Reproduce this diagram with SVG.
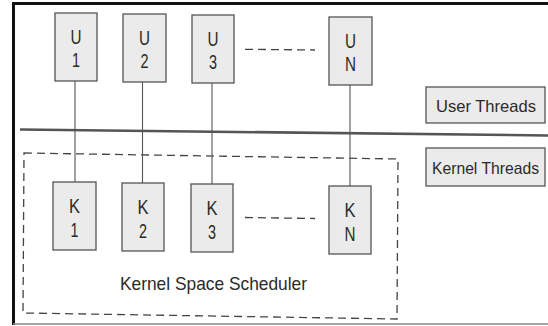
<svg xmlns="http://www.w3.org/2000/svg" width="548" height="326" viewBox="0 0 548 326">
  <style>
    .box { fill: #ebebeb; stroke: #555; stroke-width: 1.3; }
    .lbl { font-family: "Liberation Sans", Arial, sans-serif; font-size: 20px; fill: #2a2a2a; text-anchor: middle; }
    .big { font-family: "Liberation Sans", Arial, sans-serif; font-size: 18.5px; fill: #2a2a2a; text-anchor: middle; }
    .tag { font-family: "Liberation Sans", Arial, sans-serif; font-size: 16.5px; fill: #2a2a2a; text-anchor: middle; }
    .conn { stroke: #555; stroke-width: 1.1; fill: none; }
    .dash { stroke: #444; stroke-width: 1.3; fill: none; stroke-dasharray: 8 5; }
  </style>
  <rect x="0" y="0" width="548" height="326" fill="#ffffff"/>
  <g id="frame">
    <line x1="13.5" y1="2" x2="13.5" y2="325" stroke="#111" stroke-width="3"/>
    <line x1="12" y1="3.5" x2="548" y2="3.5" stroke="#111" stroke-width="3"/>
    <line x1="13" y1="324" x2="548" y2="324" stroke="#888" stroke-width="1.5"/>
    <line x1="20" y1="129.5" x2="548" y2="135.5" stroke="#555" stroke-width="2.6"/>
  </g>
  <g id="scheduler">
    <path class="dash" d="M24,153 L398,159 L397,319 L23,313 Z"/>
    <text class="big" x="213.5" y="290" textLength="187" lengthAdjust="spacingAndGlyphs">Kernel Space Scheduler</text>
  </g>
  <g id="connectors">
    <line class="conn" x1="75" y1="81" x2="75" y2="182"/>
    <line class="conn" x1="142.5" y1="82" x2="142.5" y2="183"/>
    <line class="conn" x1="212" y1="83" x2="212" y2="184"/>
    <line class="conn" x1="350" y1="85" x2="350" y2="186"/>
    <line class="dash" x1="245" y1="49.3" x2="315" y2="50"/>
    <line class="dash" x1="245" y1="217.5" x2="315" y2="218.5"/>
  </g>
  <g id="U1">
    <rect class="box" x="55" y="13" width="42" height="68"/>
    <text class="lbl" x="76" y="43.5" textLength="11" lengthAdjust="spacingAndGlyphs">U</text>
    <text class="lbl" x="76" y="67" textLength="8" lengthAdjust="spacingAndGlyphs">1</text>
  </g>
  <g id="U2">
    <rect class="box" x="123" y="14" width="43" height="68"/>
    <text class="lbl" x="144.5" y="44.5" textLength="11" lengthAdjust="spacingAndGlyphs">U</text>
    <text class="lbl" x="144.5" y="68" textLength="8" lengthAdjust="spacingAndGlyphs">2</text>
  </g>
  <g id="U3">
    <rect class="box" x="192" y="15" width="42" height="68"/>
    <text class="lbl" x="213" y="45.5" textLength="11" lengthAdjust="spacingAndGlyphs">U</text>
    <text class="lbl" x="213" y="69" textLength="8" lengthAdjust="spacingAndGlyphs">3</text>
  </g>
  <g id="UN">
    <rect class="box" x="329" y="17" width="43" height="68"/>
    <text class="lbl" x="350.5" y="47.5" textLength="11" lengthAdjust="spacingAndGlyphs">U</text>
    <text class="lbl" x="350.5" y="71" textLength="11" lengthAdjust="spacingAndGlyphs">N</text>
  </g>
  <g id="K1">
    <rect class="box" x="53" y="182" width="43" height="68"/>
    <text class="lbl" x="74.5" y="213" textLength="11" lengthAdjust="spacingAndGlyphs">K</text>
    <text class="lbl" x="74.5" y="237" textLength="8" lengthAdjust="spacingAndGlyphs">1</text>
  </g>
  <g id="K2">
    <rect class="box" x="122" y="183" width="42" height="68"/>
    <text class="lbl" x="143" y="214" textLength="11" lengthAdjust="spacingAndGlyphs">K</text>
    <text class="lbl" x="143" y="238" textLength="8" lengthAdjust="spacingAndGlyphs">2</text>
  </g>
  <g id="K3">
    <rect class="box" x="191" y="184" width="42" height="68"/>
    <text class="lbl" x="212" y="215" textLength="11" lengthAdjust="spacingAndGlyphs">K</text>
    <text class="lbl" x="212" y="239" textLength="8" lengthAdjust="spacingAndGlyphs">3</text>
  </g>
  <g id="KN">
    <rect class="box" x="329" y="186" width="42" height="68"/>
    <text class="lbl" x="350" y="217" textLength="11" lengthAdjust="spacingAndGlyphs">K</text>
    <text class="lbl" x="350" y="241" textLength="11" lengthAdjust="spacingAndGlyphs">N</text>
  </g>
  <g id="user-threads">
    <rect class="box" x="426" y="87" width="119" height="36"/>
    <text class="tag" x="486" y="112" textLength="100" lengthAdjust="spacingAndGlyphs">User Threads</text>
  </g>
  <g id="kernel-threads">
    <rect class="box" x="426" y="148" width="119" height="38"/>
    <text class="tag" x="485.5" y="174" textLength="107" lengthAdjust="spacingAndGlyphs">Kernel Threads</text>
  </g>
</svg>
